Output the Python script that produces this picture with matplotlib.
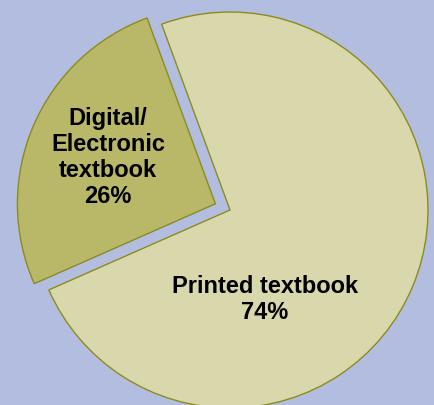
import matplotlib
matplotlib.use("Agg")
import matplotlib.pyplot as plt

categories = ["Printed textbook", "Digital/\nElectronic\ntextbook"]
values = [74, 26]

bg = "#b3bddf"
fills = ["#d9d8ac", "#b8b868"]
edge = "#8c8c1e"

W, H, dpi = 434, 405, 100
fig = plt.figure(figsize=(W / dpi, H / dpi), dpi=dpi, facecolor=bg)
ax = fig.add_axes([0, 0, 1, 1])
ax.set_facecolor(bg)

wedges, _ = ax.pie(values, colors=fills, startangle=203.8, counterclock=True,
                   explode=[0, 0.08], radius=1.0,
                   wedgeprops=dict(edgecolor=edge, linewidth=1.0))

# scale: 198 px per unit, center at pixel (230, 210 from top)
R = 198.0
cx, cy = 230.0, 210.0
ax.set_xlim(-cx / R, (W - cx) / R)
ax.set_ylim(-(H - cy) / R, cy / R)
ax.set_aspect('auto')
ax.axis('off')

font = dict(family=["Liberation Sans", "DejaVu Sans"], fontweight="bold",
            fontsize=17, ha="center", va="center", color="black", linespacing=1.16)
ax.text(0.177, -0.452, f"{categories[0]}\n{values[0]}%", **font)
ax.text(-0.616, 0.265, f"{categories[1]}\n{values[1]}%", **font)

fig.savefig("out.png", dpi=dpi, facecolor=bg)
